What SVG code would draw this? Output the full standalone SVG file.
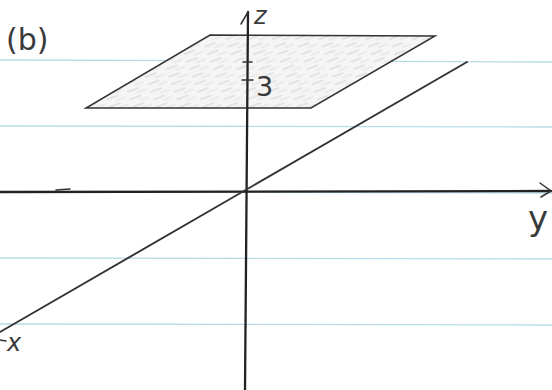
<svg xmlns="http://www.w3.org/2000/svg" width="552" height="390" viewBox="0 0 552 390">
<defs>
<style>
.rule{stroke:#b9dbe9;stroke-width:1.3;fill:none}
.axis{stroke:#222222;stroke-width:2.3;fill:none;stroke-linecap:round}
.thin{stroke:#333333;stroke-width:1.5;fill:none;stroke-linecap:round}
.hand{font-family:"DejaVu Sans","Liberation Sans",sans-serif;fill:#3a3a3a}
</style>
<pattern id="hatch" patternUnits="userSpaceOnUse" width="22" height="8" patternTransform="rotate(-20)">
<line x1="0" y1="2" x2="12" y2="2" stroke="#c8c8c8" stroke-width="0.8"/>
<line x1="9" y1="6" x2="19" y2="6" stroke="#d6d6d6" stroke-width="0.7"/>
</pattern>
</defs>
<rect width="552" height="390" fill="#ffffff"/>
<g id="paper">
<line class="rule" x1="0" y1="60" x2="552" y2="62"/>
<line class="rule" x1="0" y1="126" x2="552" y2="127"/>
<line class="rule" x1="0" y1="192" x2="552" y2="193"/>
<line class="rule" x1="0" y1="258" x2="552" y2="259"/>
<line class="rule" x1="0" y1="324" x2="552" y2="325"/>
</g>
<g id="plane">
<polygon points="210,35 435,36 311,108 86,108" fill="#f5f5f5"/>
<polygon points="210,35 435,36 311,108 86,108" fill="url(#hatch)"/>
<polygon points="210,35 435,36 311,108 86,108" class="thin"/>
</g>
<g id="connectors">
<line class="axis" x1="0" y1="192" x2="551" y2="191"/>
<path class="thin" d="M540,183 L551,191 L541,197"/>
<path class="thin" d="M56,190 L70,189"/>
<line class="axis" x1="248" y1="12" x2="245" y2="390"/>
<path class="thin" d="M241,24 L248,12"/>
<line class="thin" x1="0" y1="332" x2="467" y2="62" style="stroke-width:1.9"/>
<line class="thin" x1="0" y1="340" x2="6" y2="341"/>
<line class="thin" x1="243" y1="62" x2="252" y2="62"/>
<line class="thin" x1="242" y1="80" x2="253" y2="80"/>
</g>
<g id="labels">
<text class="hand" x="6" y="50" font-size="30">(b)</text>
<text class="hand" x="254" y="24" font-size="24" font-style="italic">z</text>
<text class="hand" x="256" y="96" font-size="27">3</text>
<text class="hand" x="528" y="230" font-size="34">y</text>
<text class="hand" x="7" y="351" font-size="24" font-style="italic">x</text>
</g>
</svg>
